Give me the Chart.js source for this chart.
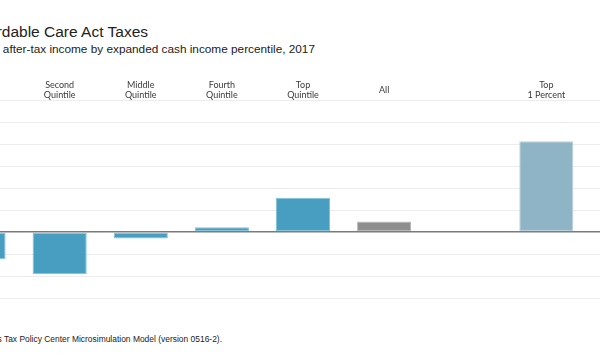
<!DOCTYPE html>
<html>
<head>
<meta charset="utf-8">
<script src="https://cdn.jsdelivr.net/npm/chart.js@4.4.1/dist/chart.umd.min.js"></script>
<style>
  html, body { margin: 0; padding: 0; background: #fff; width: 600px; height: 356px; overflow: hidden; position: relative; }
  .txt { position: absolute; white-space: nowrap; text-align: right; font-family: "Liberation Sans", Arial, sans-serif; }
  #title { right: 452px; top: 23px; font-size: 15.5px; color: #222; }
  #subtitle { right: 285px; top: 42px; font-size: 11.8px; color: #222; }
  #source { right: 378px; top: 334px; font-size: 8.45px; color: #222; }
  #chartWrap { position: absolute; left: -62px; top: 0; width: 730px; height: 300px; }
</style>
</head>
<body>
<div id="title" class="txt">Distributional Effect of Repealing Affordable Care Act Taxes</div>
<div id="subtitle" class="txt">Percent change in after-tax income by expanded cash income percentile, 2017</div>
<div id="source" class="txt">Source: Urban-Brookings Tax Policy Center Microsimulation Model (version 0516-2).</div>
<div id="chartWrap"><canvas id="c" width="730" height="300"></canvas></div>
<script>
// Data (percent change in after-tax income)
const categories = [
  ['Lowest', 'Quintile'],
  ['Second', 'Quintile'],
  ['Middle', 'Quintile'],
  ['Fourth', 'Quintile'],
  ['Top', 'Quintile'],
  'All',
  '',
  ['Top', '1 Percent'],
  ['Top', '0.1 Percent']
];
const values = [-0.62, -0.96, -0.15, 0.11, 0.78, 0.24, null, 2.06, 2.64];
const yMin = -1.5;
const yMax = 3.0;
const yStep = 0.5;

function fillFor(i) {
  const lab = categories[i];
  if (lab === 'All') return '#8e8e8e';
  if (Array.isArray(lab) && lab[0] === 'Top' && lab[1] !== 'Quintile') return '#8fb4c6';
  return '#479ec1';
}
function borderFor(i) {
  const lab = categories[i];
  if (lab === 'All') return '#b4b4b4';
  if (Array.isArray(lab) && lab[0] === 'Top' && lab[1] !== 'Quintile') return '#b8d2de';
  return '#80c2da';
}

new Chart(document.getElementById('c'), {
  type: 'bar',
  data: {
    labels: categories,
    datasets: [{
      data: values,
      backgroundColor: values.map((v, i) => fillFor(i)),
      borderColor: values.map((v, i) => borderFor(i)),
      borderWidth: 1,
      borderSkipped: false,
      categoryPercentage: 1.0,
      barPercentage: 0.667
    }]
  },
  options: {
    responsive: false,
    animation: false,
    devicePixelRatio: 1,
    layout: { padding: { top: 78, bottom: 2, left: 0, right: 0 } },
    plugins: { legend: { display: false }, tooltip: { enabled: false }, title: { display: false } },
    scales: {
      x: {
        position: 'top',
        afterFit: (scale) => { scale.height = 22; },
        grid: { display: false, drawTicks: false },
        border: { display: false },
        ticks: {
          crossAlign: 'center',
          padding: 5,
          maxRotation: 0,
          autoSkip: false,
          color: '#3a3a3a',
          font: { family: 'Lato, "Open Sans", sans-serif', size: 9, lineHeight: 1.15 }
        }
      },
      y: {
        min: yMin,
        max: yMax,
        grid: {
          drawTicks: false,
          color: (ctx) => (ctx.tick && ctx.tick.value === 0) ? '#7a7a7a' : '#ececec',
          lineWidth: (ctx) => (ctx.tick && ctx.tick.value === 0) ? 1.5 : 1
        },
        border: { display: false },
        ticks: { display: false, stepSize: yStep }
      }
    }
  }
});
</script>
</body>
</html>
